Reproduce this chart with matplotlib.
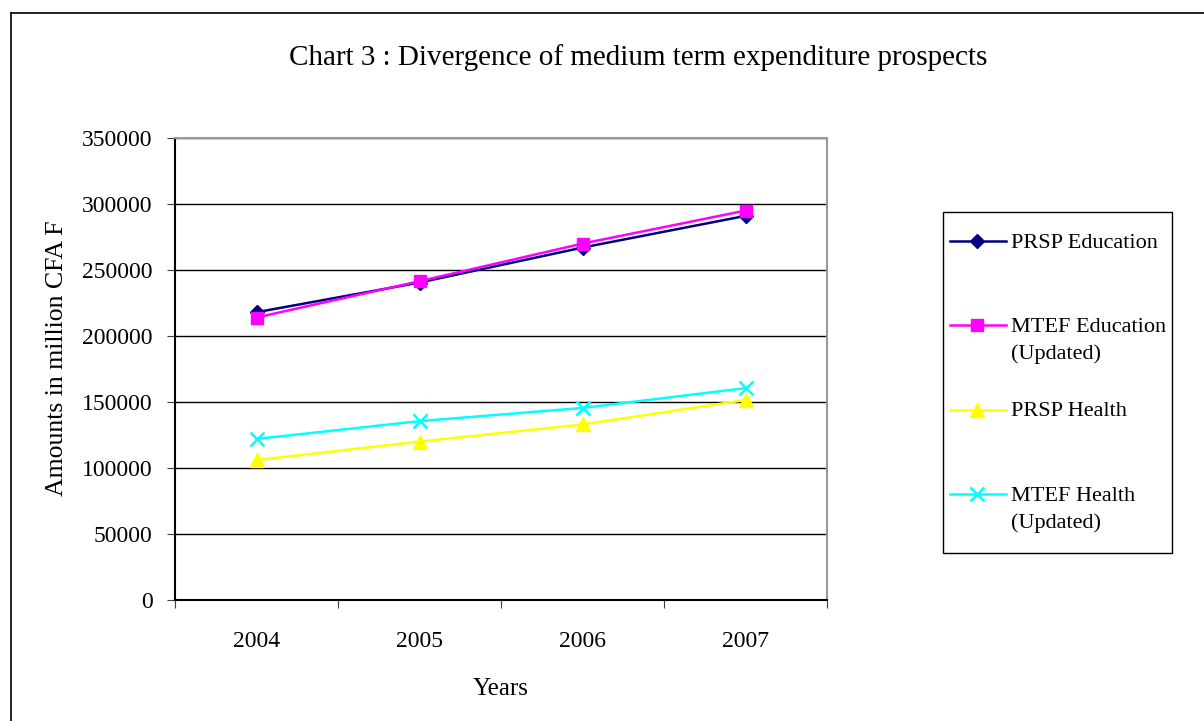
import matplotlib
matplotlib.use('Agg')
import matplotlib.pyplot as plt
from matplotlib.lines import Line2D
from matplotlib.patches import Rectangle

years = ['2004', '2005', '2006', '2007']
prsp_education = [218000, 240500, 267000, 291000]
mtef_education = [214000, 241500, 270000, 295000]
prsp_health = [106000, 120000, 133000, 151500]
mtef_health = [122000, 135500, 145500, 160500]

plt.rcParams['font.family'] = ['Liberation Serif', 'DejaVu Serif']

W, H = 1204, 721
fig = plt.figure(figsize=(W / 100, H / 100), dpi=100)

def fx(px):
    return px / W

def fy(py):
    return 1 - py / H

# plot area in pixels: left 175, right 827, top 138, bottom 600
ax = fig.add_axes([fx(175), fy(600), fx(827) - fx(175), fy(138) - fy(600)])

# outer chart border (top and left only visible)
fig.add_artist(Line2D([fx(11), 1], [fy(13), fy(13)], color='black', lw=1.2))
fig.add_artist(Line2D([fx(11), fx(11)], [0, fy(13)], color='black', lw=1.2))

series = [
    ('PRSP Education', prsp_education, dict(color='#000080', marker='D', markersize=7)),
    ('MTEF Education\n(Updated)', mtef_education, dict(color='#ff00ff', marker='s', markersize=8)),
    ('PRSP Health', prsp_health, dict(color='#ffff00', marker='^', markersize=10)),
    ('MTEF Health\n(Updated)', mtef_health, dict(color='#00ffff', marker='x', markersize=10, mew=1.8)),
]

x = [1, 2, 3, 4]
for name, vals, st in series:
    ax.plot(x, vals, lw=1.8, **st)

ax.set_xlim(0.5, 4.5)
ax.set_ylim(0, 350000)
ax.set_yticks(range(0, 350001, 50000))
ax.yaxis.grid(True, color='black', lw=1.0)
ax.set_axisbelow(True)

ax.set_xticks([0.5, 1.5, 2.5, 3.5, 4.5])
ax.set_xticklabels([])
ax.set_xticks(x, minor=True)
ax.set_xticklabels(years, minor=True)
ax.tick_params(axis='x', which='minor', length=0, pad=22, labelsize=17)
ax.tick_params(axis='x', which='major', length=6, direction='out', color='#404040')
ax.tick_params(axis='y', length=6, direction='out', labelsize=17, pad=10, color='#404040')

for s in ['top', 'right']:
    ax.spines[s].set_color('#999999')
    ax.spines[s].set_linewidth(1.5)
for s in ['left', 'bottom']:
    ax.spines[s].set_color('black')
    ax.spines[s].set_linewidth(1.5)

ax.set_xlabel('Years', fontsize=18, labelpad=19)
ax.set_ylabel('Amounts in million CFA F', fontsize=18.5)
ax.yaxis.set_label_coords(-(175 - 68) / 652, (600 - 358) / 462)

fig.text(fx(638), fy(58), 'Chart 3 : Divergence of medium term expenditure prospects',
         ha='center', va='center', fontsize=21)

# legend drawn by hand: Excel puts entries in equal slots
fig.add_artist(Rectangle((fx(943), fy(553)), fx(1172) - fx(943), fy(212) - fy(553),
                         fill=False, edgecolor='black', lw=1.0, transform=fig.transFigure))
for i, (name, vals, st) in enumerate(series):
    yc = 240.5 + 84.5 * i
    fig.add_artist(Line2D([fx(950), fx(1006)], [fy(yc), fy(yc)], color=st['color'], lw=1.8))
    mst = {k: v for k, v in st.items() if k != 'color'}
    fig.add_artist(Line2D([fx(977)], [fy(yc)], color=st['color'], lw=0, **mst))
    fig.text(fx(1011), fy(yc - 7), name, ha='left', va='top', fontsize=16,
             linespacing=1.5)

fig.savefig('out.png', dpi=100)
